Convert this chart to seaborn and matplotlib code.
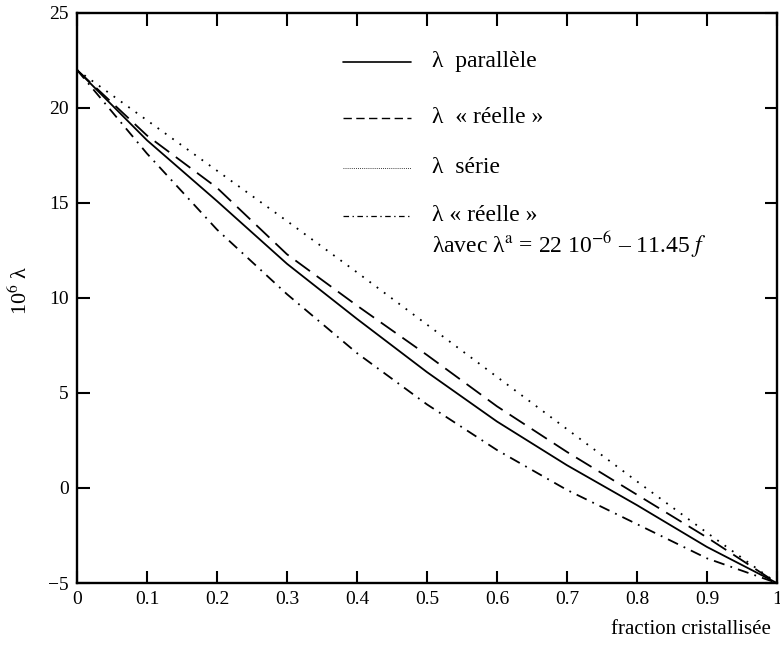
import matplotlib
matplotlib.use("Agg")
import matplotlib.pyplot as plt
import seaborn as sns
import pandas as pd

# Crystallised fraction
fraction = [0.0, 0.1, 0.2, 0.3, 0.4, 0.5, 0.6, 0.7, 0.8, 0.9, 1.0]

# 10^6 x expansion coefficient for each mixing model
lam_parallele = [22.0, 18.3, 15.1, 11.8, 8.9, 6.1, 3.5, 1.2, -0.9, -3.1, -5.0]
lam_reelle = [22.0, 18.55, 15.8, 12.3, 9.6, 7.0, 4.3, 1.9, -0.35, -2.6, -5.0]
lam_serie = [22.0, 19.35, 16.7, 14.05, 11.35, 8.6, 5.85, 3.1, 0.35, -2.35, -5.0]
lam_reelle_lin = [22.0, 17.6, 13.6, 10.2, 7.1, 4.4, 2.0, -0.1, -1.9, -3.7, -5.0]

x_ticks = [0, 0.1, 0.2, 0.3, 0.4, 0.5, 0.6, 0.7, 0.8, 0.9, 1]
x_ticklabels = ["0", "0.1", "0.2", "0.3", "0.4", "0.5", "0.6", "0.7", "0.8", "0.9", "1"]
y_ticks = [-5, 0, 5, 10, 15, 20, 25]
y_ticklabels = ["\u22125", "0", "5", "10", "15", "20", "25"]

sns.set_style("ticks")
plt.rcParams["font.family"] = ["Liberation Serif", "DejaVu Serif"]
plt.rcParams["mathtext.fontset"] = "stix"
plt.rcParams["lines.scale_dashes"] = False
for key in ["text.color", "axes.labelcolor", "xtick.color", "ytick.color",
            "axes.edgecolor"]:
    plt.rcParams[key] = "black"

fig = plt.figure(figsize=(7.8, 6.46), dpi=100)
ax = fig.add_axes([0.0987, 0.0975, 0.8973, 0.8825])

lw = 1.3
styles = [
    (lam_parallele, "-"),
    (lam_reelle, (0, (13, 6))),
    (lam_serie, (0, (1.3, 5.2))),
    (lam_reelle_lin, (0, (8, 4.5, 1.3, 4.5))),
]
for values, ls in styles:
    df = pd.DataFrame({"f": fraction, "lam": values})
    sns.lineplot(data=df, x="f", y="lam", ax=ax, color="black",
                 linewidth=lw, linestyle=ls, estimator=None, sort=False)

ax.set_xlim(0, 1)
ax.set_ylim(-5, 25)
ax.set_xticks(x_ticks)
ax.set_xticklabels(x_ticklabels)
ax.set_yticks(y_ticks)
ax.set_yticklabels(y_ticklabels)
ax.tick_params(direction="in", length=9, width=1.5, labelsize=14,
               top=True, right=True, pad=6)
for s in ax.spines.values():
    s.set_linewidth(1.7)

ax.set_xlabel("fraction cristallisée", fontsize=15)
ax.xaxis.set_label_coords(0.991, -0.065)
ax.xaxis.label.set_horizontalalignment("right")
ax.set_ylabel(r"10$^{6}$ λ", fontsize=16)
ax.yaxis.set_label_coords(-0.064, 0.514)

# Legend drawn as sample segments with text to their right
leg_x0, leg_x1, txt_x = 0.38, 0.477, 0.507
legend_rows = [
    (0.914, "-", 1.2, "λ  parallèle"),
    (0.816, (0, (6, 3.2)), 1.0, "λ  « réelle »"),
    (0.728, (0, (0.6, 0.9)), 0.6, "λ  série"),
    (0.644, (0, (4, 2.5, 1, 2.5)), 0.9, "λ « réelle »"),
]
for y, ls, w, label in legend_rows:
    ax.plot([leg_x0, leg_x1], [y, y], transform=ax.transAxes, color="black",
            linestyle=ls, linewidth=w)
    ax.text(txt_x, y, label, transform=ax.transAxes, fontsize=17,
            va="center", ha="left")
ax.text(txt_x, 0.594, r"λavec λ$^{\rm a}$ = 22 10$^{-6}$ – 11.45 $f$",
        transform=ax.transAxes, fontsize=17, va="center", ha="left")

fig.savefig("out.png", dpi=100)
